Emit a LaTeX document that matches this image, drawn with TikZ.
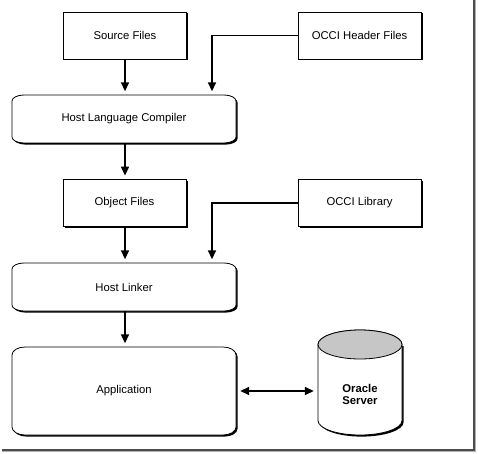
\documentclass[tikz,border=0pt]{standalone}
\usepackage{fontspec}
\setmainfont{Liberation Sans}
\usetikzlibrary{arrows.meta,shadows}
\newcommand\procpath[7]{% x1 y1 x2 y2 rx ry options
  \path[#7] (#1+#5,#4) -- (#3-#5,#4)
    arc[start angle=90,end angle=0,x radius=#5 pt,y radius=#6 pt]
    -- (#3,#2+#6)
    arc[start angle=0,end angle=-90,x radius=#5 pt,y radius=#6 pt]
    -- (#1+#5,#2)
    arc[start angle=270,end angle=180,x radius=#5 pt,y radius=#6 pt]
    -- (#1,#4-#6)
    arc[start angle=180,end angle=90,x radius=#5 pt,y radius=#6 pt] -- cycle;}
\newcommand\procshape[6]{%
  \procpath{#1}{#2}{#3}{#4}{#5}{#6}{fill=black,shift={(1.6,-1.6)}}%
  \procpath{#1}{#2}{#3}{#4}{#5}{#6}{draw=black,fill=white,line width=0.8pt}}
\begin{document}
\begin{tikzpicture}[x=1pt,y=1pt,
  txt/.style={font=\fontsize{11.3}{12.5}\selectfont, inner sep=0pt},
  box/.style={txt, draw, line width=0.8pt, fill=white,
    minimum width=123pt, minimum height=47pt,
    drop shadow={shadow xshift=1.5pt,shadow yshift=-1.5pt,fill=black,opacity=1}},
  proc/.style={txt, minimum width=224pt},
  arr/.style={line width=1.6pt, -{Triangle[width=8pt,length=9pt]}, shorten >=3.5pt},
  dbl/.style={line width=1.6pt, {Triangle[width=8pt,length=9pt]}-{Triangle[width=8pt,length=9pt]}, shorten >=4pt, shorten <=4pt},
]
\useasboundingbox (0,0) rectangle (478,453);
% frame
\draw[line width=1.3pt, black!30] (475.4,453) -- (475.4,1.6) -- (2,1.6);
\draw[line width=1.2pt, black!70] (474,453) -- (474,3) -- (2,3);

% rectangles
\node[box] (src) at (125,417.5) {Source Files};
\node[box] (hdr) at (359.5,417.5) {OCCI Header Files};
\node[box] (obj) at (124.5,250) {Object Files};
\node[box] (lib) at (359.5,250) {OCCI Library};

% process shapes
\procshape{12}{310}{236}{358}{12}{6}
\node[proc, minimum height=48pt] (comp) at (124,334) {Host Language Compiler};
\procshape{12}{142}{236}{190}{12}{6}
\node[proc, minimum height=48pt] (link) at (124,166) {Host Linker};
\procshape{12}{18}{236}{106}{13}{8}
\node[proc, minimum height=88pt] (app) at (124,62) {Application};

% cylinder
\path[fill=black, shift={(1.6,-1.6)}] (318,108.5) -- (318,32.5)
  arc[start angle=180,end angle=360,x radius=42pt,y radius=14.5pt]
  -- (402,108.5) -- cycle;
\draw[fill=white, line width=0.8pt] (318,108.5) -- (318,32.5)
  arc[start angle=180,end angle=360,x radius=42pt,y radius=14.5pt]
  -- (402,108.5)
  arc[start angle=0,end angle=180,x radius=42pt,y radius=14.5pt] -- cycle;
\draw[fill=gray!45, line width=0.8pt] (360,108.5) ellipse[x radius=42pt,y radius=14.5pt];
\node[txt, font=\fontsize{11.3}{12}\selectfont\bfseries, align=center,
  minimum width=84pt, minimum height=90pt] (db) at (360,59) {Oracle\\Server};

% connectors
\coordinate (jx) at (212,0);
\draw[arr] (src.south) -- (src.south |- comp.north);
\draw[arr] (hdr.west) -| (jx |- comp.north);
\draw[arr] (comp.south -| src) -- (obj.north -| src);
\draw[arr] (obj.south -| src) -- (src |- link.north);
\draw[arr] (lib.west) -| (jx |- link.north);
\draw[arr] (link.south -| src) -- (src |- app.north);
\draw[dbl] (app.east) -- (db.west |- app.east);
\end{tikzpicture}
\end{document}
